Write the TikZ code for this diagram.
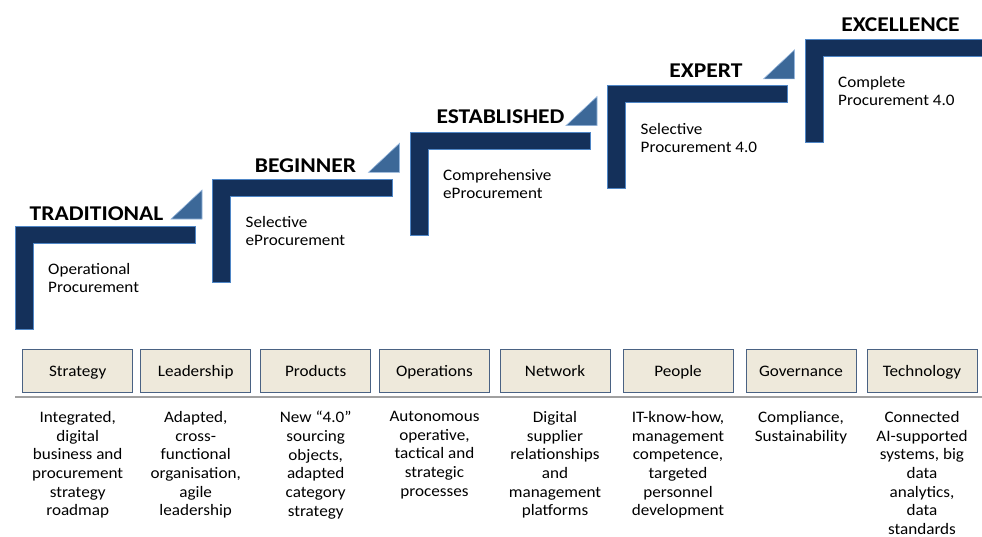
\documentclass[tikz,border=0pt]{standalone}
\usepackage{fontspec}
\setmainfont{Carlito}[FakeStretch=1.07]
\newfontfamily\headfont{Carlito}[FakeStretch=1.12]
\definecolor{navy}{HTML}{14305A}
\definecolor{edgeblue}{HTML}{4F86C6}
\definecolor{triblue}{HTML}{3C6898}
\definecolor{boxfill}{HTML}{EEE9DB}
\definecolor{boxedge}{HTML}{4A6283}
\definecolor{rulegray}{HTML}{A0A0A0}
\begin{document}
\begin{tikzpicture}[x=1pt,y=-1pt,
  stepshape/.style={fill=navy,draw=edgeblue,line width=0.9pt},
  tri/.style={fill=triblue,draw=edgeblue!60,line width=0.6pt},
  headtext/.style={font=\headfont\fontsize{21}{24}\selectfont\bfseries,inner sep=0pt,anchor=base},
  steptext/.style={font=\fontsize{16}{18}\selectfont,inner sep=0pt,anchor=north west,align=left},
  catbox/.style={draw=boxedge,fill=boxfill,line width=0.8pt,minimum width=110pt,minimum height=43pt,inner sep=0pt,
    font=\fontsize{16}{18}\selectfont,text height=14.5pt,text depth=2pt},
  desc/.style={font=\fontsize{16}{18.7}\selectfont,inner sep=0pt,anchor=north,align=center}]
\useasboundingbox (0,0) rectangle (982,536);
% steps
\foreach \i/\head/\hx/\hy/\txt in {%
  0/TRADITIONAL/96.5/220/{Operational\\Procurement},
  1/BEGINNER/305.5/172.3/{Selective\\eProcurement},
  2/ESTABLISHED/500.5/123.3/{Comprehensive\\eProcurement},
  3/EXPERT/706/77.3/{Selective\\Procurement 4.0},
  4/EXCELLENCE/900.5/31.7/{Complete\\Procurement 4.0}}{%
  \pgfmathsetmacro{\L}{15+197.5*\i}
  \pgfmathsetmacro{\T}{226-46.7*\i}
  \pgfmathsetmacro{\R}{ifthenelse(\i==4,990,\L+180)}
  \draw[stepshape] (\L,\T) -- (\R,\T) -- (\R,\T+17) -- (\L+18,\T+17) -- (\L+18,\T+103) -- (\L,\T+103) -- cycle;
  \ifnum\i<4
    \draw[tri] (\L+156,\T-7) -- (\L+187,\T-36) -- (\L+187,\T-7) -- cycle;
  \fi
  \node[headtext] (head\i) at (\hx,\hy) {\head};
  \node[steptext] (stxt\i) at (\L+33,\T+37) {\txt};
}
% rule
\coordinate (ruleL) at (15,397);
\coordinate (ruleR) at (982,397);
\draw[rulegray,line width=1.2pt] (ruleL) -- (ruleR);
% categories
\foreach \n/\cx/\lab/\d in {%
  1/77.7/Strategy/{Integrated,\\digital\\business and\\procurement\\strategy\\roadmap},
  2/195.7/Leadership/{Adapted,\\cross-\\functional\\organisation,\\agile\\leadership},
  3/315.7/Products/{New “4.0”\\sourcing\\objects,\\adapted\\category\\strategy},
  4/434.5/Operations/{Autonomous\\operative,\\tactical and\\strategic\\processes},
  5/555/Network/{Digital\\supplier\\relationships\\and\\management\\platforms},
  6/678/People/{IT-know-how,\\management\\competence,\\targeted\\personnel\\development},
  7/801/Governance/{Compliance,\\Sustainability},
  8/922/Technology/{Connected\\AI-supported\\systems, big\\data\\analytics,\\data\\standards}}{%
  \node[catbox] (cat\n) at (\cx,370.5) {\lab};
  \node[desc] (desc\n) at (\cx,411) {\d};
}
\end{tikzpicture}
\end{document}
